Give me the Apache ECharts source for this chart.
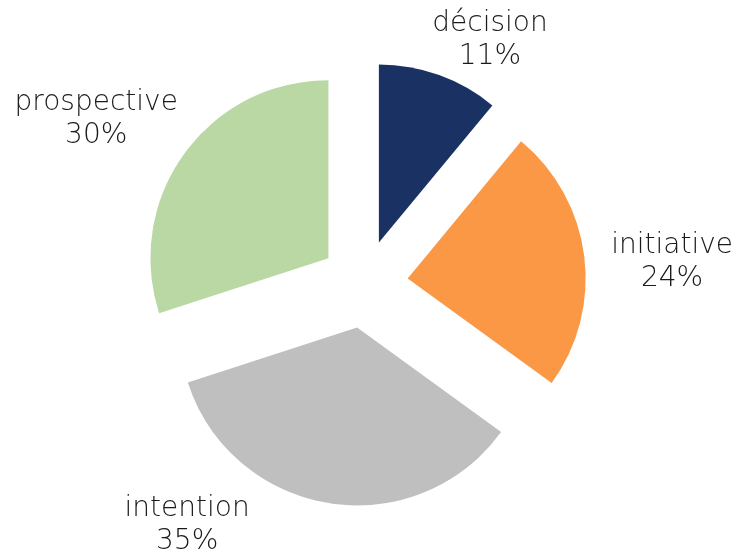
<!DOCTYPE html>
<html><head><meta charset="utf-8">
<script src="https://cdn.jsdelivr.net/npm/echarts@6/dist/echarts.min.js"></script>
<style>html,body{margin:0;padding:0;background:#fff}#c{width:735px;height:553px}</style>
</head><body><div id="c"></div>
<script>
var categories = ['décision', 'initiative', 'intention', 'prospective'];
var values = [11, 24, 35, 30];
var colors = ['#1A3263', '#FB9846', '#BFBFBF', '#B9D8A4'];
// label nudges (style only) relative to ECharts' outside-label anchor
var labelNudge = [[9, -16], [33, 9], [-104, 2], [-37, -23]];

var chart = echarts.init(document.getElementById('c'));
chart.setOption({
  animation: false,
  series: [{
    type: 'pie',
    center: [364, 284],
    radius: 178,
    startAngle: 90,
    clockwise: true,
    selectedMode: 'multiple',
    selectedOffset: 44,
    select: { itemStyle: {}, label: {} },
    label: {
      show: true,
      position: 'outside',
      overflow: 'none',
      formatter: function (p) { return p.name + '\n' + p.value + '%'; },
      fontFamily: 'DejaVu Sans',
      fontWeight: 200,
      fontSize: 28,
      lineHeight: 33,
      color: '#1a1a1a'
    },
    labelLine: { show: false, length: 20, length2: 30 },
    labelLayout: function (p) {
      var n = labelNudge[p.dataIndex];
      return { dx: n[0], dy: n[1], align: 'center', verticalAlign: 'middle' };
    },
    data: categories.map(function (n, i) {
      return { name: n, value: values[i], selected: true, itemStyle: { color: colors[i] } };
    })
  }]
});
</script></body></html>
